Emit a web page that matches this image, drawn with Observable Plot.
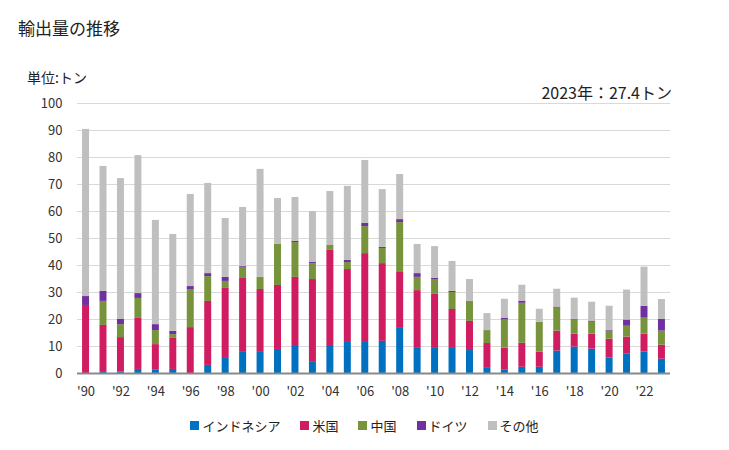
<!DOCTYPE html>
<html><head><meta charset="utf-8">
<script src="https://cdn.jsdelivr.net/npm/d3@7"></script>
<script src="https://cdn.jsdelivr.net/npm/@observablehq/plot@0.6"></script>
<style>
body{margin:0;background:#fff;font-family:"Noto Sans CJK JP","Noto Sans",sans-serif;color:#222;}
#wrap{position:relative;width:729px;height:450px;overflow:hidden;}
#title{position:absolute;left:18px;top:15px;font-size:17px;}
#unit{position:absolute;left:27px;top:67px;font-size:14px;}
#note{position:absolute;right:57px;top:80px;font-size:16px;}
#chart{position:absolute;left:0;top:0;}
#legend{position:absolute;left:0;width:729px;top:416px;display:flex;justify-content:center;gap:20px;font-size:13px;}
#legend span.i{display:flex;align-items:center;}
#legend span.sw{display:inline-block;width:9px;height:9px;margin-right:3px;}
</style></head>
<body><div id="wrap">
<div id="title">輸出量の推移</div>
<div id="unit">単位:トン</div>
<div id="note">2023年：27.4トン</div>
<div id="chart"></div>
<div id="legend"></div>
</div>
<script>
const years = d3.range(1990, 2024);
const seriesNames = ["インドネシア", "米国", "中国", "ドイツ", "その他"];
const seriesColors = ["#0070C0", "#D01C60", "#77933C", "#7030A0", "#BFBFBF"];
const indonesia = [0,0.7,0.5,1.5,1.2,1.5,0,3.0,5.9,8.1,8.1,8.9,10.0,4.4,10.0,11.5,11.5,11.9,16.7,9.3,9.6,9.6,8.5,1.9,1.2,2.3,2.3,8.3,9.8,9.0,5.8,7.3,8.0,5.3];
const us = [25.2,17.1,12.8,18.9,9.5,11.5,17.0,23.7,25.6,27.1,23.0,23.7,25.6,30.4,35.6,27.0,32.9,28.8,20.7,21.4,19.7,14.1,10.8,9.2,8.2,8.9,5.6,7.4,4.8,5.6,6.9,6.2,6.6,5.2];
const china = [0,8.9,4.8,7.4,5.2,1.4,14.1,9.2,2.6,4.1,4.5,15.2,12.9,5.9,1.8,2.6,10.0,5.6,18.5,4.9,5.5,6.3,7.4,4.8,10.4,14.8,11.1,8.5,5.2,4.4,3.0,4.0,5.9,5.2];
const germany = [3.3,3.7,1.9,1.8,2.2,1.2,1.1,1.1,1.5,0.3,0,0,0.5,0.4,0,0.8,1.2,0.4,1.1,1.4,0.4,0.4,0,0,0.7,0.8,0,0.4,0.3,0.4,0.3,2.3,4.4,4.4];
const other = [61.9,46.3,52.2,51.1,38.6,35.9,34.1,33.4,21.8,21.9,40.0,17.0,16.2,18.9,20.0,27.4,23.3,21.4,16.7,10.8,11.8,11.1,8.1,6.3,7.0,5.9,4.8,6.6,7.8,7.0,8.9,11.1,14.5,7.3];
const yTicks = [0,10,20,30,40,50,60,70,80,90,100];
const xTicks = years.filter(y => y % 2 === 0);

const cols = [indonesia, us, china, germany, other];
const data = [];
years.forEach((yr, i) => {
  cols.forEach((c, k) => data.push({year: yr, series: seriesNames[k], value: c[i]}));
});

const chart = Plot.plot({
  width: 729, height: 410,
  marginTop: 103, marginBottom: 37, marginLeft: 77, marginRight: 59,
  style: {fontFamily: '"Noto Sans CJK JP","Noto Sans",sans-serif', fontSize: "13px", color: "#333", background: "transparent"},
  x: {type: "band", domain: years, round: false, paddingInner: 0.6, paddingOuter: 0.29, label: null,
      ticks: xTicks, tickFormat: d => "'" + String(d).slice(2), tickSize: 0, tickPadding: 13},
  y: {domain: [0, 100], ticks: yTicks, label: null, tickSize: 0, tickPadding: 15},
  color: {domain: seriesNames, range: seriesColors},
  marks: [
    Plot.ruleY(yTicks.filter(d => d > 0), {stroke: "#D9D9D9", strokeWidth: 1}),
    Plot.barY(data, {x: "year", y: "value", fill: "series", order: seriesNames}),
    Plot.ruleY([0], {stroke: "#898989", strokeWidth: 2})
  ]
});
document.getElementById("chart").appendChild(chart);

const lg = document.getElementById("legend");
seriesNames.forEach((n, k) => {
  const s = document.createElement("span"); s.className = "i";
  s.innerHTML = `<span class="sw" style="background:${seriesColors[k]}"></span>${n}`;
  lg.appendChild(s);
});
</script>
</body></html>
